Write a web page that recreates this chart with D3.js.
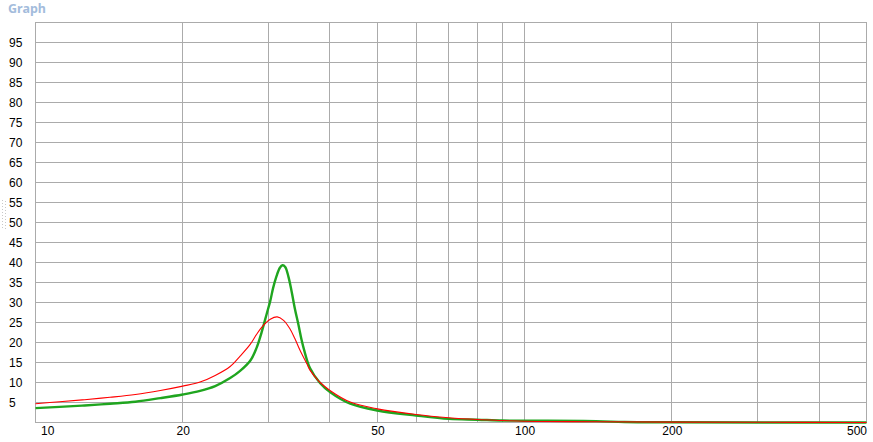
<!DOCTYPE html>
<html>
<head>
<meta charset="utf-8">
<script src="https://cdn.jsdelivr.net/npm/d3@7"></script>
<style>
  body { margin: 0; background: #fff; }
  svg { display: block; font-family: "Noto Sans", "Segoe UI", sans-serif; }
  .grid line { stroke: #ababab; stroke-width: 1; shape-rendering: crispEdges; }
  .grid path { display: none; }
  .lbl path, .lbl line { display: none; }
  .lbl text { font-size: 12px; fill: #000; }
</style>
</head>
<body>
<div id="chart"></div>
<script>
// values
const freqRed = [10, 11.2, 12.6, 14.2, 16, 18, 20, 21.7, 23.3, 25, 26.2, 27.5, 28.3, 29.2, 30.2, 31.2, 32.1, 33.1, 33.9, 34.7, 35.9, 36.4, 37.6, 38.2, 40, 44, 50, 60, 70, 80, 90, 100, 140, 200, 300, 500];
const valRed  = [4.7, 5.2, 5.7, 6.3, 7.0, 8.0, 9.1, 10.1, 11.75, 14.0, 16.6, 19.6, 22.0, 24.2, 25.8, 26.4, 25.6, 23.5, 21.0, 18.2, 14.6, 13.1, 10.9, 10.0, 8.0, 5.1, 3.4, 2.0, 1.2, 0.75, 0.5, 0.3, 0.2, 0.1, 0.05, 0];

const freqGreen = [10, 11.2, 12.6, 14.2, 16, 18, 20, 21.7, 23.3, 25, 26.2, 27.5, 28.3, 29.0, 29.7, 30.2, 30.6, 31.1, 31.6, 32.0, 32.4, 32.9, 33.4, 33.9, 34.5, 35.0, 35.4, 36.4, 38.2, 40, 44, 50, 60, 70, 80, 90, 100, 140, 160, 200, 500];
const valGreen  = [3.6, 3.9, 4.25, 4.7, 5.2, 6.1, 7.0, 7.9, 9.1, 11.1, 12.9, 15.5, 18.6, 22.6, 27.2, 30.4, 33.6, 36.6, 38.7, 39.3, 38.9, 36.4, 32.7, 28.5, 24.3, 20.6, 18.2, 13.6, 9.8, 7.6, 4.7, 3.0, 1.75, 0.9, 0.7, 0.5, 0.45, 0.35, 0.12, 0.05, 0];

const xLabelTicks = [10, 20, 50, 100, 200, 500];
const xGridTicks = [20, 30, 40, 50, 60, 70, 80, 90, 100, 200, 300, 400];
const yTicks = [5, 10, 15, 20, 25, 30, 35, 40, 45, 50, 55, 60, 65, 70, 75, 80, 85, 90, 95];

const W = 873, H = 442;
const plotLeft = 35.5, plotRight = 866.5, plotTop = 22.5, plotBottom = 422.5;

const svg = d3.select("#chart").append("svg")
    .attr("width", W)
    .attr("height", H);

const x = d3.scaleLog().domain([10, 500]).range([plotLeft, plotRight]);
const y = d3.scaleLinear().domain([0, 100]).range([plotBottom, plotTop]);

// title
svg.append("text")
    .attr("x", 8)
    .attr("y", 13)
    .text("Graph")
    .style("font-size", "12.5px")
    .style("font-weight", "bold")
    .style("fill", "#a3bcdc");

// splitter grip dots
const grip = svg.append("g").attr("fill", "#c8c8c8");
d3.range(200, 230, 3).forEach(gy => {
    grip.append("rect").attr("x", 2).attr("y", gy).attr("width", 1).attr("height", 1);
    grip.append("rect").attr("x", 5).attr("y", gy + 1).attr("width", 1).attr("height", 1);
});

// grid
const snap = v => Math.round(v - 0.5) + 0.5;

svg.append("g")
    .attr("class", "grid")
    .attr("transform", `translate(0, ${plotBottom})`)
    .call(d3.axisBottom(x).tickValues(xGridTicks).tickSize(-(plotBottom - plotTop)).tickFormat(""))
    .selectAll(".tick")
    .attr("transform", d => `translate(${snap(x(d))},0)`);

svg.append("g")
    .attr("class", "grid")
    .attr("transform", `translate(${plotLeft}, 0)`)
    .call(d3.axisLeft(y).tickValues(yTicks).tickSize(-(plotRight - plotLeft)).tickFormat(""))
    .selectAll(".tick")
    .attr("transform", d => `translate(0,${snap(y(d))})`);

svg.append("rect")
    .attr("x", plotLeft)
    .attr("y", plotTop)
    .attr("width", plotRight - plotLeft)
    .attr("height", plotBottom - plotTop)
    .attr("fill", "none")
    .attr("stroke", "#ababab")
    .attr("shape-rendering", "crispEdges");

// labels
const xl = svg.append("g")
    .attr("class", "lbl")
    .attr("transform", `translate(0, ${plotBottom - 0.5})`)
    .call(d3.axisBottom(x).tickValues(xLabelTicks).tickSize(0).tickPadding(4).tickFormat(d3.format("d")));
xl.selectAll("text")
    .attr("text-anchor", d => d === 10 ? "start" : d === 500 ? "end" : "middle")
    .attr("dx", d => d === 10 ? 5 : 0);

const yl = svg.append("g")
    .attr("class", "lbl")
    .call(d3.axisLeft(y).tickValues(yTicks).tickSize(0));
yl.selectAll("text")
    .attr("x", 9)
    .attr("text-anchor", "start");

// curves
const line = d3.line()
    .x(d => x(d[0]))
    .y(d => y(d[1]))
    .curve(d3.curveCatmullRom.alpha(0.5));

svg.append("path")
    .datum(d3.zip(freqGreen, valGreen))
    .attr("fill", "none")
    .attr("stroke", "#1fa51f")
    .attr("stroke-width", 2.4)
    .attr("d", line);

svg.append("path")
    .datum(d3.zip(freqRed, valRed))
    .attr("fill", "none")
    .attr("stroke", "#ff0000")
    .attr("stroke-width", 1.1)
    .attr("d", line);
</script>
</body>
</html>
